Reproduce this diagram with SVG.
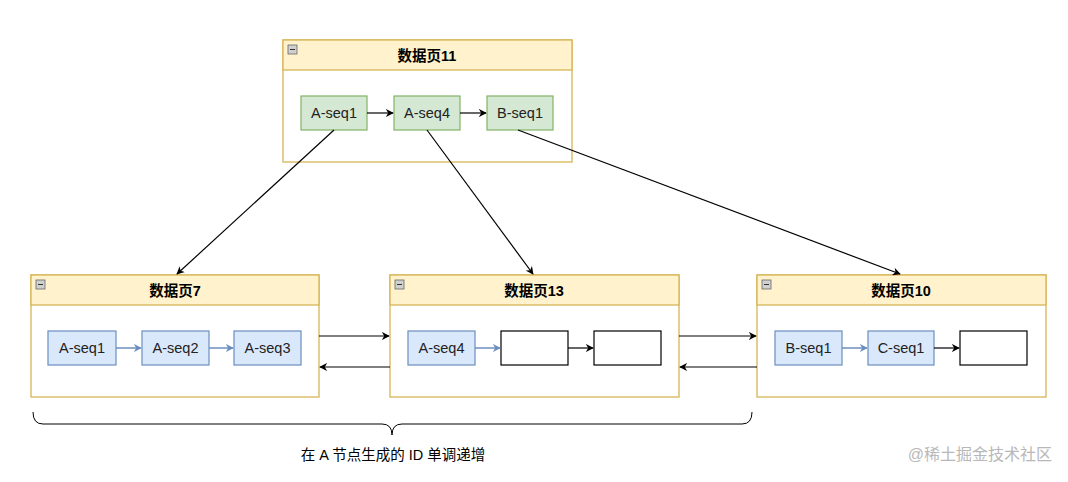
<svg xmlns="http://www.w3.org/2000/svg" width="1068" height="482" viewBox="0 0 1068 482">
<style>
text{font-family:"Liberation Sans",Arial,"Noto Sans CJK SC",sans-serif;}
.pg{fill:#ffffff;stroke:#d6b656;stroke-width:1.3}
.hd{fill:#fff2cc;stroke:#d6b656;stroke-width:1.3}
.tt{font-size:14.5px;font-weight:bold;fill:#000;text-anchor:middle}
.ic{fill:#d0d0d0;stroke:#666;stroke-width:0.8}
.g{fill:#d5e8d4;stroke:#82b366;stroke-width:1.2}
.b{fill:#dae8fc;stroke:#6c8ebf;stroke-width:1.2}
.w{fill:#ffffff;stroke:#000;stroke-width:1.2}
.lb{font-size:14.5px;fill:#222;text-anchor:middle}
.k{stroke:#000;stroke-width:1.2;fill:none;marker-end:url(#ak)}
.bl{stroke:#6c8ebf;stroke-width:1.5;fill:none;marker-end:url(#ab)}
</style>
<defs>
<marker id="ak" viewBox="0 0 10 10" refX="9" refY="5" markerWidth="8" markerHeight="8" markerUnits="userSpaceOnUse" orient="auto"><path d="M0,0 L10,5 L0,10 L3,5 z" fill="#000"/></marker>
<marker id="ab" viewBox="0 0 10 10" refX="9" refY="5" markerWidth="8" markerHeight="8" markerUnits="userSpaceOnUse" orient="auto"><path d="M0,0 L10,5 L0,10 L3,5 z" fill="#6c8ebf"/></marker>
</defs>
<rect width="1068" height="482" fill="#ffffff"/>

<g id="page11">
<rect class="pg" x="283" y="40" width="289" height="122"/>
<rect class="hd" x="283" y="40" width="289" height="30"/>
<rect class="ic" x="288" y="45" width="9" height="9"/><line x1="290" y1="49.5" x2="295" y2="49.5" stroke="#333"/>
<text class="tt" x="427" y="61">数据页11</text>
<g id="p11a"><rect class="g" x="301" y="96" width="66" height="34"/><text class="lb" x="334" y="118">A-seq1</text></g>
<g id="p11b"><rect class="g" x="394" y="96" width="66" height="34"/><text class="lb" x="427" y="118">A-seq4</text></g>
<g id="p11c"><rect class="g" x="487" y="96" width="66" height="34"/><text class="lb" x="520" y="118">B-seq1</text></g>
</g>

<g id="page7">
<rect class="pg" x="31" y="275" width="288" height="122"/>
<rect class="hd" x="31" y="275" width="288" height="30"/>
<rect class="ic" x="36" y="280" width="9" height="9"/><line x1="38" y1="284.5" x2="43" y2="284.5" stroke="#333"/>
<text class="tt" x="175" y="296">数据页7</text>
<g id="p7a"><rect class="b" x="48" y="331" width="68" height="34"/><text class="lb" x="82" y="353">A-seq1</text></g>
<g id="p7b"><rect class="b" x="142" y="331" width="67" height="34"/><text class="lb" x="175.5" y="353">A-seq2</text></g>
<g id="p7c"><rect class="b" x="234" y="331" width="67" height="34"/><text class="lb" x="267.5" y="353">A-seq3</text></g>
</g>

<g id="page13">
<rect class="pg" x="390" y="275" width="289" height="122"/>
<rect class="hd" x="390" y="275" width="289" height="30"/>
<rect class="ic" x="395" y="280" width="9" height="9"/><line x1="397" y1="284.5" x2="402" y2="284.5" stroke="#333"/>
<text class="tt" x="534" y="296">数据页13</text>
<g id="p13a"><rect class="b" x="408" y="331" width="67" height="34"/><text class="lb" x="441.5" y="353">A-seq4</text></g>
<g id="p13b"><rect class="w" x="501" y="331" width="67" height="34"/></g>
<g id="p13c"><rect class="w" x="594" y="331" width="67" height="34"/></g>
</g>

<g id="page10">
<rect class="pg" x="757" y="275" width="289" height="122"/>
<rect class="hd" x="757" y="275" width="289" height="30"/>
<rect class="ic" x="762" y="280" width="9" height="9"/><line x1="764" y1="284.5" x2="769" y2="284.5" stroke="#333"/>
<text class="tt" x="901" y="296">数据页10</text>
<g id="p10a"><rect class="b" x="775" y="331" width="67" height="34"/><text class="lb" x="808.5" y="353">B-seq1</text></g>
<g id="p10b"><rect class="b" x="868" y="331" width="66" height="34"/><text class="lb" x="901" y="353">C-seq1</text></g>
<g id="p10c"><rect class="w" x="960" y="331" width="67" height="34"/></g>
</g>

<g id="connectors">
<line class="k" x1="367" y1="113" x2="393" y2="113"/>
<line class="k" x1="460" y1="113" x2="486" y2="113"/>
<line class="bl" x1="116" y1="348" x2="141" y2="348"/>
<line class="bl" x1="209" y1="348" x2="233" y2="348"/>
<line class="bl" x1="475" y1="348" x2="500" y2="348"/>
<line class="k" x1="568" y1="348" x2="593" y2="348"/>
<line class="bl" x1="842" y1="348" x2="867" y2="348"/>
<line class="k" x1="934" y1="348" x2="959" y2="348"/>
<line class="k" x1="334" y1="130" x2="177" y2="274"/>
<line class="k" x1="427" y1="130" x2="533" y2="274"/>
<line class="k" x1="518" y1="130" x2="900" y2="274"/>
<line class="k" x1="319" y1="336" x2="389" y2="336"/>
<line class="k" x1="390" y1="367" x2="320" y2="367"/>
<line class="k" x1="679" y1="336" x2="756" y2="336"/>
<line class="k" x1="757" y1="367" x2="680" y2="367"/>
</g>

<g id="brace">
<path d="M33,412 Q33,424 43,424 L382,424 Q392,424 392,435 Q392,424 402,424 L742,424 Q752,424 752,412" fill="none" stroke="#000" stroke-width="1"/>
</g>
<text x="393" y="460" font-size="14.5" fill="#000" text-anchor="middle">在 A 节点生成的 ID 单调递增</text>
<text x="1052" y="460" font-size="16" fill="#b8b8b8" text-anchor="end">@稀土掘金技术社区</text>
</svg>
